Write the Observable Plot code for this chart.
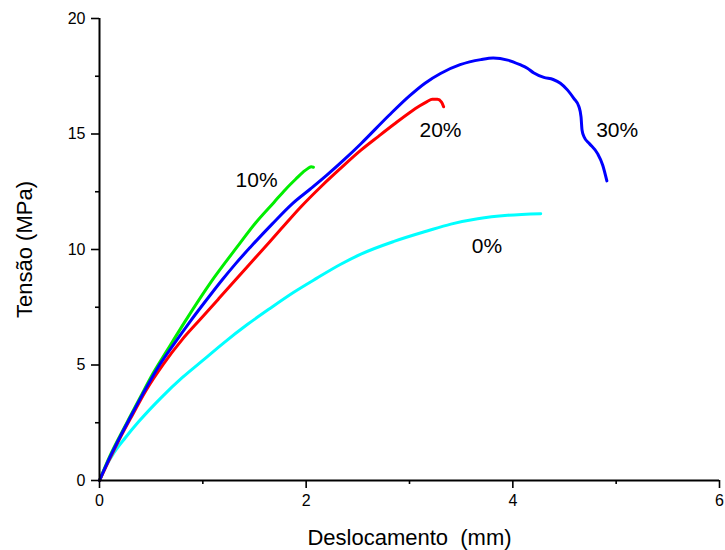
<!DOCTYPE html>
<html>
<head>
<meta charset="utf-8">
<script src="https://cdn.jsdelivr.net/npm/d3@7"></script>
<script src="https://cdn.jsdelivr.net/npm/@observablehq/plot@0.6"></script>
<style>
  html, body { margin: 0; padding: 0; background: #fff; }
</style>
</head>
<body>
<div id="chart"></div>
<script>
// Series: [deslocamento (mm), tensão (MPa)]
const s0 = [[0,0],[0.05,0.5],[0.14,1.2],[0.25,1.85],[0.38,2.55],[0.6,3.6],[0.8,4.45],[1.0,5.2],[1.2,5.95],[1.43,6.75],[1.65,7.45],[1.88,8.15],[2.1,8.75],[2.33,9.35],[2.53,9.8],[2.85,10.35],[3.17,10.8],[3.4,11.1],[3.66,11.33],[3.95,11.48],[4.27,11.55]];
const s10 = [[0,0],[0.1,1.05],[0.2,1.95],[0.3,2.8],[0.4,3.65],[0.52,4.65],[0.65,5.6],[0.83,6.9],[1.08,8.6],[1.33,10.1],[1.51,11.15],[1.69,12.05],[1.8,12.6],[1.9,13.05],[1.97,13.35],[2.02,13.52],[2.05,13.58],[2.07,13.56]];
const s20 = [[0,0],[0.1,0.95],[0.2,1.85],[0.32,2.85],[0.45,3.9],[0.62,5.05],[0.8,6.1],[0.98,7.0],[1.15,7.85],[1.3,8.6],[1.55,9.85],[1.75,10.85],[1.95,11.85],[2.15,12.75],[2.33,13.5],[2.53,14.3],[2.7,14.9],[2.85,15.42],[3.0,15.92],[3.1,16.22],[3.17,16.4],[3.22,16.5],[3.27,16.5],[3.31,16.38],[3.33,16.18]];
const s30 = [[0,0],[0.1,1.0],[0.2,1.9],[0.3,2.75],[0.42,3.75],[0.56,4.85],[0.72,5.9],[0.88,6.9],[1.05,7.9],[1.19,8.7],[1.32,9.4],[1.46,10.1],[1.67,11.1],[1.87,12.0],[2.04,12.62],[2.2,13.22],[2.37,13.9],[2.53,14.58],[2.8,15.8],[3.0,16.65],[3.15,17.2],[3.3,17.62],[3.49,18.0],[3.69,18.22],[3.81,18.29],[3.95,18.2],[4.07,18.0],[4.14,17.85],[4.2,17.65],[4.3,17.45],[4.39,17.36],[4.46,17.2],[4.53,16.9],[4.59,16.54],[4.64,16.18],[4.66,15.74],[4.67,15.16],[4.69,14.87],[4.74,14.59],[4.82,14.15],[4.87,13.65],[4.91,12.97]];

const seriesNames = ["0%", "10%", "20%", "30%"];
const seriesColors = ["#00ffff", "#00ee00", "#ff0000", "#0000ff"];
const seriesData = [s0, s10, s20, s30];

// Curve labels
const labelText = ["10%", "20%", "30%", "0%"];
const labelX = [1.52, 3.30, 5.01, 3.75];
const labelY = [13.0, 15.16, 15.16, 10.14];

// Axes
const xMajor = [0, 2, 4, 6];
const xMinor = [1, 3, 5];
const yMajor = [0, 5, 10, 15, 20];
const yMinor = [2.5, 7.5, 12.5, 17.5];
const xTitle = "Deslocamento\u00a0 (mm)";
const yTitle = "Tensão (MPa)";

const rows = seriesData.flatMap((s, i) => s.map(([x, y]) => ({x, y, name: seriesNames[i]})));
const labels = labelText.map((t, i) => ({t, x: labelX[i], y: labelY[i]}));

const font = "'Liberation Sans', Arial, sans-serif";

const chart = Plot.plot({
  width: 725,
  height: 550,
  marginLeft: 99,
  marginRight: 6,
  marginTop: 18,
  marginBottom: 70,
  style: {fontFamily: font, fontSize: "16px", color: "#000", background: "#fff"},
  x: {domain: [0, 6]},
  y: {domain: [0, 20]},
  color: {domain: seriesNames, range: seriesColors},
  marks: [
    Plot.line(rows, {x: "x", y: "y", z: "name", stroke: "name", strokeWidth: 3, curve: "monotone-x"}),
    Plot.text(labels, {x: "x", y: "y", text: "t", fontSize: 21, fill: "#000", fontFamily: font}),
    Plot.ruleY([0], {stroke: "#000", strokeWidth: 2}),
    Plot.ruleX([0], {stroke: "#000", strokeWidth: 2}),
    Plot.axisX({ticks: xMajor, tickSize: 8, tickPadding: 6, strokeWidth: 1.6, fontSize: 16,
      tickFormat: (d) => String(d), label: null}),
    Plot.axisX({ticks: xMinor, tickSize: 4, strokeWidth: 1.6, tickFormat: () => "", label: null}),
    Plot.axisY({ticks: yMajor, tickSize: 8, tickPadding: 6, strokeWidth: 1.6, fontSize: 16,
      tickFormat: (d) => String(d), label: null}),
    Plot.axisY({ticks: yMinor, tickSize: 4, strokeWidth: 1.6, tickFormat: () => "", label: null}),
    Plot.text([xTitle], {frameAnchor: "bottom", textAnchor: "middle", lineAnchor: "middle", dy: 57,
      fontSize: 22, fill: "#000", fontFamily: font}),
    Plot.text([yTitle], {frameAnchor: "left", textAnchor: "middle", lineAnchor: "middle", dx: -75, rotate: -90,
      fontSize: 22, fill: "#000", fontFamily: font})
  ]
});
document.getElementById("chart").appendChild(chart);
</script>
</body>
</html>
